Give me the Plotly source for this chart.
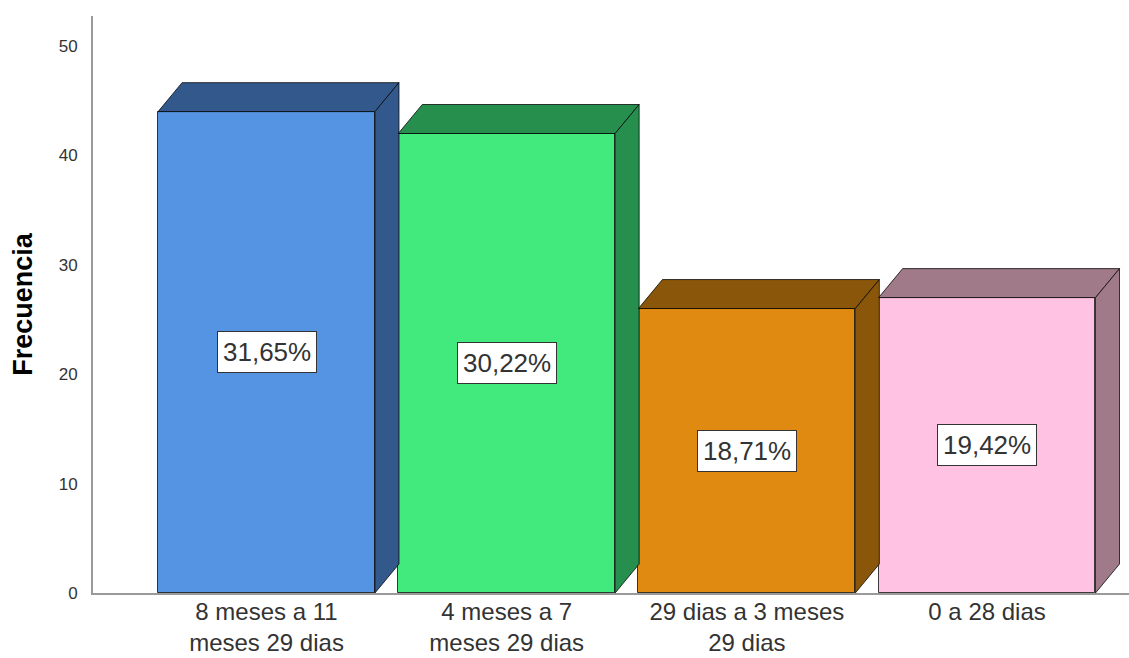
import plotly.graph_objects as go

categories = ["8 meses a 11<br>meses 29 dias", "4 meses a 7<br>meses 29 dias",
              "29 dias a 3 meses<br>29 dias", "0 a 28 dias"]
frecuencias = [44, 42, 26, 27]
front_colors = ["#5494E2", "#42E97C", "#E08A12", "#FFC2E2"]
dark_colors = ["#33598C", "#268F4E", "#8A560A", "#A07A89"]
y_ticks = [0, 10, 20, 30, 40, 50]

FONT = "Liberation Sans, Arial, sans-serif"
BAR_W = 0.903
DX = 0.1      # depth offset in x units
DY = 2.65     # depth offset in y units
EDGE = "rgba(0,0,0,0.75)"

total = sum(frecuencias)
xs = list(range(len(categories)))

fig = go.Figure()

fig.add_trace(go.Bar(
    x=xs, y=frecuencias, width=BAR_W,
    marker=dict(color=front_colors, line=dict(color=EDGE, width=1)),
    showlegend=False, hoverinfo="skip",
))

for i, v in enumerate(frecuencias):
    xl = xs[i] - BAR_W / 2
    xr = xs[i] + BAR_W / 2
    # top face
    fig.add_trace(go.Scatter(
        x=[xl, xl + DX, xr + DX, xr, xl],
        y=[v, v + DY, v + DY, v, v],
        fill="toself", fillcolor=dark_colors[i], mode="lines",
        line=dict(color=EDGE, width=1), showlegend=False, hoverinfo="skip",
    ))
    # side face
    fig.add_trace(go.Scatter(
        x=[xr, xr + DX, xr + DX, xr, xr],
        y=[0, DY, v + DY, v, 0],
        fill="toself", fillcolor=dark_colors[i], mode="lines",
        line=dict(color=EDGE, width=1), showlegend=False, hoverinfo="skip",
    ))

annotations = []
for i, v in enumerate(frecuencias):
    pct = f"{v / total * 100:.2f}".replace(".", ",") + "%"
    annotations.append(dict(
        x=xs[i], y=v / 2, xref="x", yref="y", text=pct, showarrow=False,
        font=dict(family=FONT, size=26, color="#333333"),
        bgcolor="white", bordercolor="#333333", borderwidth=1, borderpad=5,
    ))

fig.update_layout(
    width=1129, height=658,
    margin=dict(l=93, r=0, t=16, b=65),
    plot_bgcolor="white", paper_bgcolor="white",
    annotations=annotations,
    bargap=0,
    xaxis=dict(
        range=[-0.7224, 3.591], tickmode="array", tickvals=xs, ticktext=categories,
        showgrid=False, zeroline=False, showline=True, linecolor="#9a9a9a", linewidth=2,
        ticks="", automargin=False, ticklabelstandoff=-4,
        tickfont=dict(family=FONT, size=24, color="#333333"),
    ),
    yaxis=dict(
        range=[0, 52.74], tickmode="array", tickvals=y_ticks,
        showgrid=False, zeroline=False, showline=True, linecolor="#9a9a9a", linewidth=2,
        ticks="", ticklabelstandoff=10, automargin=False,
        tickfont=dict(family=FONT, size=17, color="#333333"),
        title=dict(text="<b>Frecuencia</b>", standoff=18,
                   font=dict(family=FONT, size=27, color="black")),
    ),
)

fig.write_html("out.html", config={"displayModeBar": False},
               post_script="document.body.style.margin='0px';")
